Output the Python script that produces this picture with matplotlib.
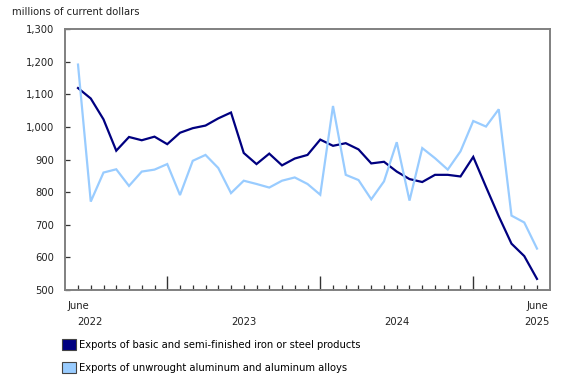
import matplotlib
matplotlib.use("Agg")
import matplotlib.pyplot as plt
from matplotlib.patches import Patch
import matplotlib.transforms as mtransforms

# Monthly data, June 2022 - June 2025
steel = [1119, 1087, 1023, 927, 969, 959, 970, 947, 982, 996, 1004, 1026, 1044,
         920, 886, 918, 882, 903, 914, 961, 942, 950, 931, 888, 893,
         863, 840, 831, 853, 853, 848, 908, 816, 726, 642, 604, 534]
aluminum = [1191, 771, 860, 870, 819, 863, 869, 886, 791, 896, 914, 874, 797,
            835, 825, 814, 835, 845, 825, 792, 1064, 853, 837, 778, 833,
            953, 774, 935, 904, 869, 925, 1018, 1001, 1054, 728, 707, 627]
series_labels = ["Exports of basic and semi-finished iron or steel products",
                 "Exports of unwrought aluminum and aluminum alloys"]
y_ticks = [500, 600, 700, 800, 900, 1000, 1100, 1200, 1300]
year_labels = ["2022", "2023", "2024", "2025"]
year_label_pos = [0.95, 13, 25, 36]
month_labels = ["June", "June"]
month_label_pos = [0, 36]
jan_positions = [7, 19, 31]

dark = "#000080"
light = "#99ccff"
gray = "#808080"
fs = 7.2

plt.rcParams['font.family'] = ['DejaVu Sans']
fig = plt.figure(figsize=(5.8, 3.85), dpi=100)
W, H = 580, 385
ax = fig.add_axes([65 / W, 1 - 290 / H, (550 - 65) / W, (290 - 29) / H])

x = list(range(len(steel)))
ax.plot(x, steel, color=dark, lw=1.6, solid_joinstyle='miter')
ax.plot(x, aluminum, color=light, lw=1.6, solid_joinstyle='miter')

ax.set_xlim(-1.02, 37.02)
ax.set_ylim(500, 1300)
ax.set_yticks(y_ticks)
ax.set_yticklabels([f"{v:,}" for v in y_ticks])

ax.set_xticks(jan_positions)
ax.set_xticklabels([])
ax.set_xticks(x, minor=True)
ax.tick_params(axis='x', which='major', direction='in', length=10, width=1.0, color='#333333')
ax.tick_params(axis='x', which='minor', direction='in', length=3.5, width=0.9, color='#333333')
ax.tick_params(axis='y', which='major', direction='in', length=3.5, width=0.9, color='#333333',
               labelsize=fs, pad=8, labelcolor='#222222')

for s in ax.spines.values():
    s.set_color(gray)
    s.set_linewidth(1.4)

trans = mtransforms.blended_transform_factory(ax.transData, fig.transFigure)
for lab, pos in zip(month_labels, month_label_pos):
    ax.text(pos, 1 - 306 / H, lab, transform=trans, ha='center', va='center',
            fontsize=fs, color='#222222')
for lab, pos in zip(year_labels, year_label_pos):
    ax.text(pos, 1 - 322 / H, lab, transform=trans, ha='center', va='center',
            fontsize=fs, color='#222222')

fig.text(12 / W, 1 - 12 / H, "millions of current dollars", fontsize=fs,
         ha='left', va='center', color='#222222')

handles = [Patch(facecolor=dark, edgecolor='#444444', lw=0.8),
           Patch(facecolor=light, edgecolor='#444444', lw=0.8)]
fig.legend(handles, series_labels, loc='upper left',
           bbox_to_anchor=(60 / W, 1 - 337 / H), frameon=False, fontsize=fs,
           handlelength=1.35, handleheight=1.35, handletextpad=0.35,
           labelspacing=1.2, borderaxespad=0, borderpad=0.2)

fig.savefig("out.png", dpi=100)
